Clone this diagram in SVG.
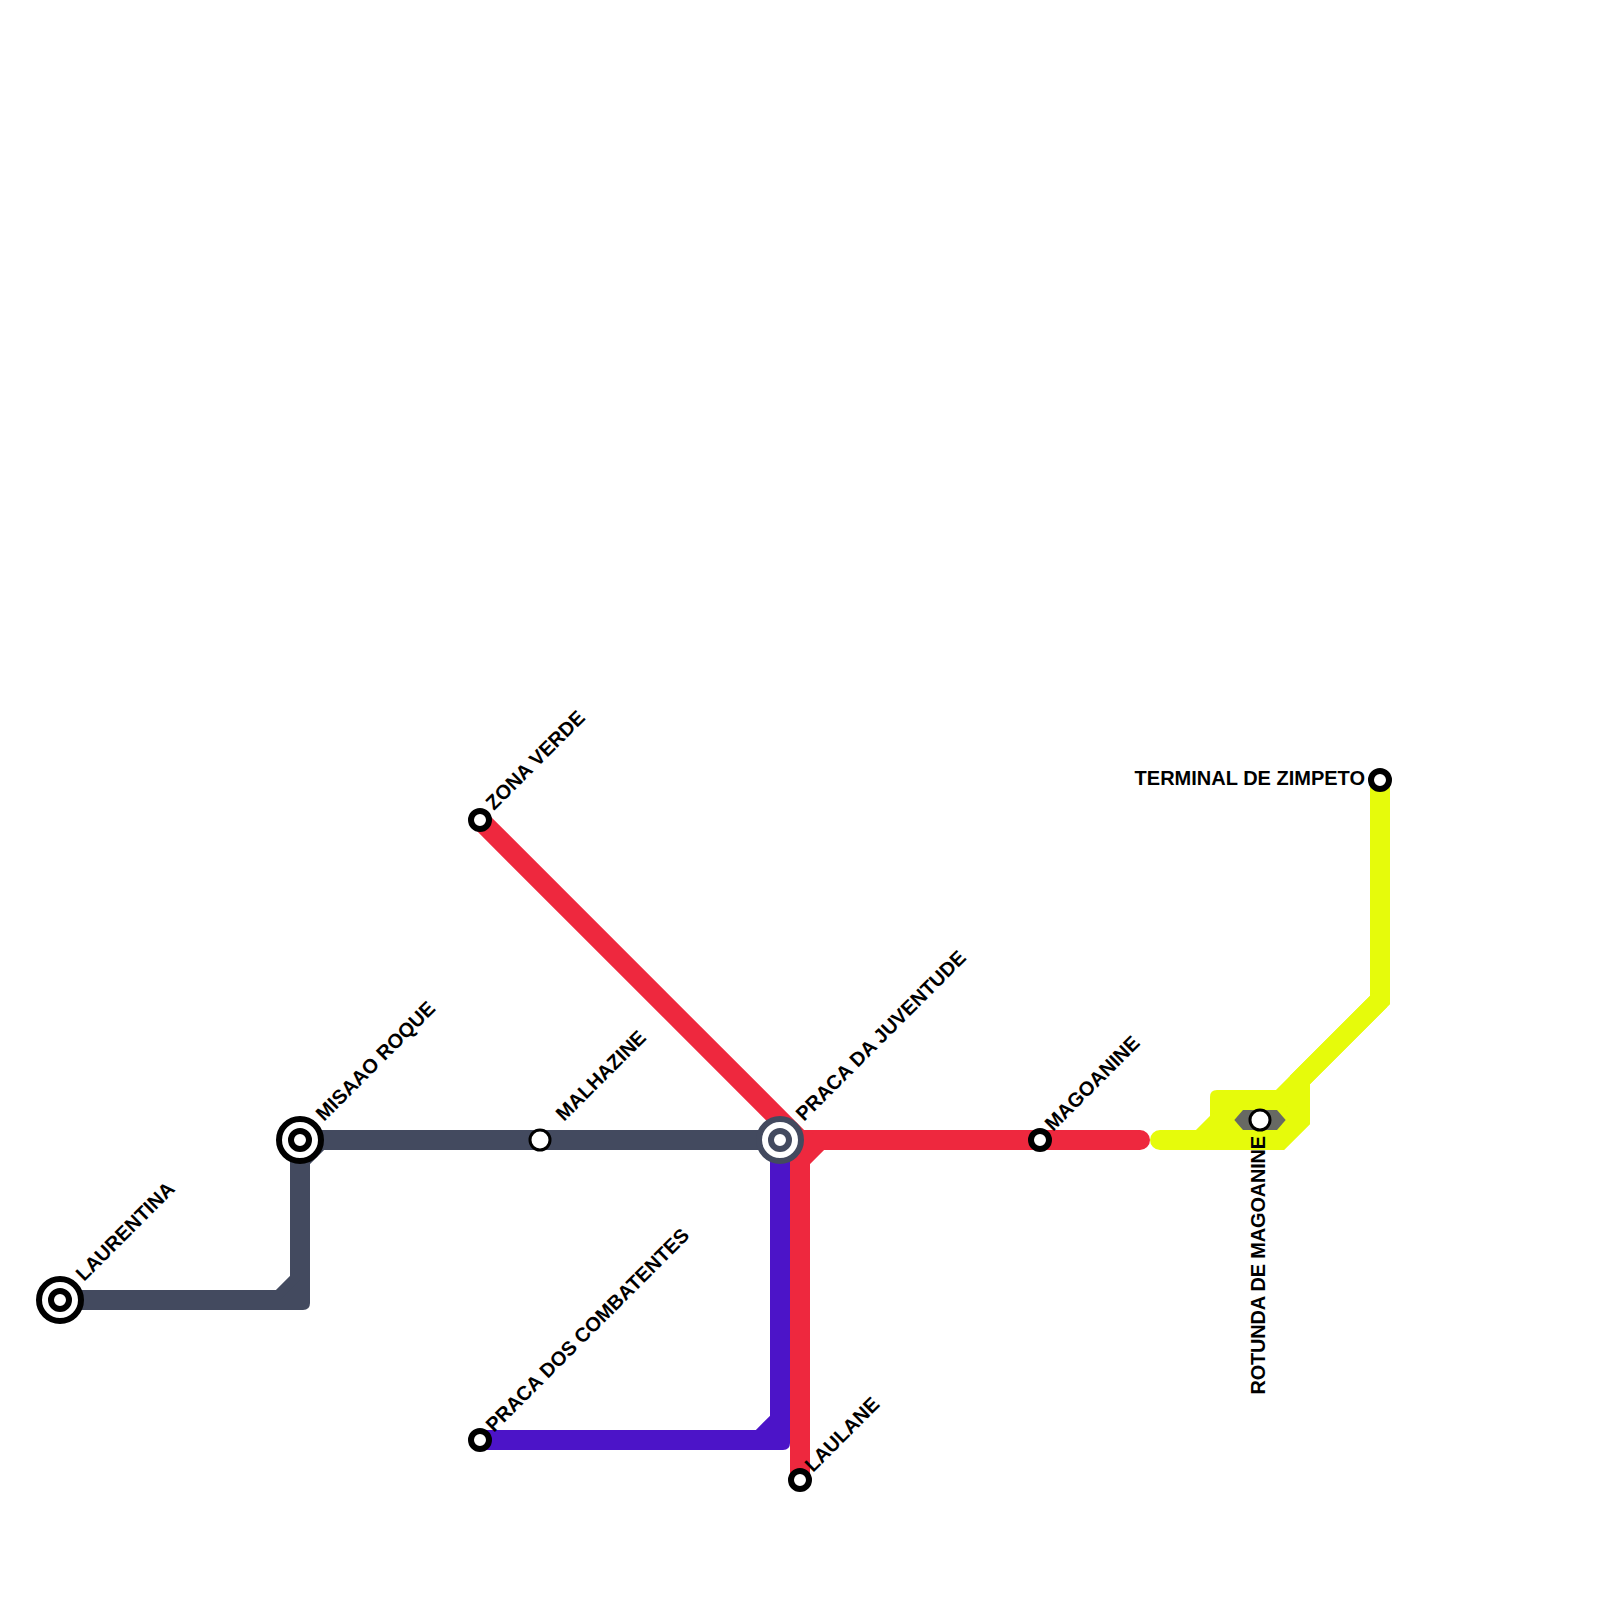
<svg xmlns="http://www.w3.org/2000/svg" width="1600" height="1600" viewBox="0 0 1600 1600">
<style>
.ln{fill:none;stroke-width:20;stroke-linejoin:miter}
.g{stroke:#434a5f}.gf{fill:#434a5f}
.r{stroke:#ee283e}
.p{stroke:#4c14c8}.pf{fill:#4c14c8}
.y{stroke:#e6fb0b}.yf{fill:#e6fb0b}
.cap{stroke-linecap:round}
.t{font-family:"Liberation Sans",Arial,sans-serif;font-weight:700;font-size:20px;fill:#000}
.ring{fill:#fff;stroke:#000;stroke-width:6}
.thin{fill:#fff;stroke:#000;stroke-width:3}
.ringg{fill:#fff;stroke:#434a5f;stroke-width:6}
</style>
<rect width="1600" height="1600" fill="#fff"/>
<g id="connectors">
<g id="line-grey">
<path class="ln g" d="M60 1300H280L300 1280V1160L320 1140H780"/>
<path class="gf" d="M280 1300L300 1280H310V1303Q310 1310 303 1310H280Z"/>
</g>
<g id="line-purple">
<path class="ln p" d="M480 1440H760L780 1420V1140"/>
<path class="pf" d="M760 1440L780 1420H790V1443Q790 1450 783 1450H760Z"/>
</g>
<g id="line-red">
<path class="ln r cap" d="M480 820L800 1140H1140"/>
<path class="ln r" d="M820 1140L800 1160V1480"/>
</g>
<g id="line-yellow">
<path class="yf" d="M1210 1125V1097Q1210 1090 1217 1090H1276L1295 1100V1125L1272 1145H1210Z"/>
<path class="ln y cap" d="M1160 1140H1280L1300 1120V1080L1380 1000V780"/>
<path class="ln y" d="M1200 1140L1220 1120"/>
<path class="ln y" d="M1280 1100L1380 1000"/>
<path fill="#676963" d="M1234.300 1120L1243 1110H1277L1285.700 1120L1277 1130H1243Z"/>
</g>
</g>
<g id="st-laurentina"><circle class="ring" cx="60" cy="1300" r="21"/><circle class="ring" cx="60" cy="1300" r="9"/><text class="t" transform="translate(84 1282) rotate(-45)">LAURENTINA</text></g>
<g id="st-misaao"><circle class="ring" cx="300" cy="1140" r="21"/><circle class="ring" cx="300" cy="1140" r="9"/><text class="t" transform="translate(324 1122) rotate(-45)">MISAAO ROQUE</text></g>
<g id="st-malhazine"><circle class="thin" cx="540" cy="1140" r="10"/><text class="t" transform="translate(564 1122) rotate(-45)">MALHAZINE</text></g>
<g id="st-praca-juventude"><circle class="ringg" cx="780" cy="1140" r="21"/><circle class="ringg" cx="780" cy="1140" r="9"/><text class="t" transform="translate(804 1122) rotate(-45)">PRACA DA JUVENTUDE</text></g>
<g id="st-zona-verde"><circle class="ring" cx="480" cy="820" r="9"/><text class="t" transform="translate(494 811) rotate(-45)">ZONA VERDE</text></g>
<g id="st-combatentes"><circle class="ring" cx="480" cy="1440" r="9"/><text class="t" transform="translate(494 1433) rotate(-45)">PRACA DOS COMBATENTES</text></g>
<g id="st-laulane"><circle class="ring" cx="800" cy="1480" r="9"/><text class="t" transform="translate(813 1473) rotate(-45)">LAULANE</text></g>
<g id="st-magoanine"><circle class="ring" cx="1040" cy="1140" r="9"/><text class="t" transform="translate(1053 1132) rotate(-45)">MAGOANINE</text></g>
<g id="st-rotunda"><circle class="thin" cx="1260" cy="1120" r="10"/><text class="t" text-anchor="end" letter-spacing="-0.2" transform="translate(1265 1136) rotate(-90)">ROTUNDA DE MAGOANINE</text></g>
<g id="st-terminal"><circle class="ring" cx="1380" cy="780" r="9"/><text class="t" text-anchor="end" x="1365" y="785">TERMINAL DE ZIMPETO</text></g>
</svg>
